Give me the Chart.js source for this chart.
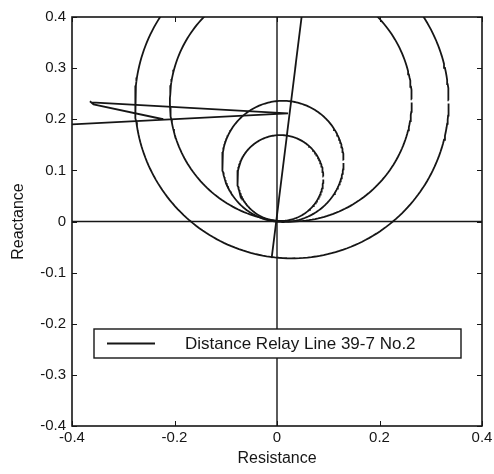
<!DOCTYPE html>
<html>
<head>
<meta charset="utf-8">
<title>Distance Relay Line 39-7 No.2</title>
<script src="https://cdn.jsdelivr.net/npm/chart.js@4.4.1/dist/chart.umd.min.js"></script>
<style>
  html, body { margin: 0; padding: 0; background: #fff; }
  #wrap { width: 494px; height: 474px; }
</style>
</head>
<body>
<div id="wrap"><canvas id="relayChart" width="494" height="474"></canvas></div>
<script>
// Axis ticks
const xTicks = [-0.4, -0.2, 0, 0.2, 0.4];
const xTickLabels = ['-0.4', '-0.2', '0', '0.2', '0.4'];
const yTicks = [-0.4, -0.3, -0.2, -0.1, 0, 0.1, 0.2, 0.3, 0.4];
const yTickLabels = ['-0.4', '-0.3', '-0.2', '-0.1', '0', '0.1', '0.2', '0.3', '0.4'];

// Mho zone circles: centre (R, X) and radius
const zoneCentreR = [0.029, 0.027, 0.0115, 0.0065];
const zoneCentreX = [0.234, 0.236, 0.1175, 0.085];
const zoneRadius = [0.306, 0.236, 0.1185, 0.084];

// Apparent impedance seen by the relay
const swingR = [-0.45, 0.0215, -0.362, -0.365, -0.358, -0.222];
const swingX = [0.1874, 0.2115, 0.233, 0.235, 0.229, 0.2];
const faultR = [0.0591, -0.0104];
const faultX = [0.49, -0.0717];

// R and X axis lines through the origin
const axisLineR = [-0.4, 0.4];
const axisLineX = [-0.4, 0.4];

const INK = '#161616';
const FONT = "'Liberation Sans', Arial, Helvetica, sans-serif";
Chart.defaults.font.family = FONT;
Chart.defaults.color = INK;

const toPoints = (rs, xs) => rs.map((r, i) => ({ x: r, y: xs[i] }));

// trace a circle from its centre and radius, leaving the small gap where the pen starts
function circlePoints(cx, cy, r) {
  const gap = 0.006 / r;
  const n = 240;
  const pts = [];
  for (let i = 0; i <= n; i++) {
    const a = gap / 2 + (2 * Math.PI - gap) * i / n;
    pts.push({ x: cx + r * Math.cos(a), y: cy + r * Math.sin(a) });
  }
  return pts;
}

const lineStyle = {
  showLine: true,
  pointRadius: 0,
  borderColor: INK,
  borderWidth: 1.8,
  tension: 0,
  clip: 0
};

const datasets = [
  { label: 'Distance Relay Line 39-7 No.2', data: toPoints(swingR, swingX), ...lineStyle },
  { label: 'fault', data: toPoints(faultR, faultX), ...lineStyle },
  { label: 'R axis', data: toPoints(axisLineR, [0, 0]), ...lineStyle, borderWidth: 1.4 },
  { label: 'X axis', data: toPoints([0, 0], axisLineX), ...lineStyle, borderWidth: 1.4 }
];
zoneRadius.forEach((r, i) => {
  datasets.push({ label: 'zone ' + (i + 1), data: circlePoints(zoneCentreR[i], zoneCentreX[i], r), ...lineStyle });
});

// box around the axes with inward tick marks on all four sides
const frameTicks = {
  id: 'frameTicks',
  afterDraw(chart) {
    const { ctx, chartArea: a, scales: { x, y } } = chart;
    const len = 5;
    ctx.save();
    ctx.strokeStyle = INK;
    ctx.lineWidth = 1.6;
    ctx.strokeRect(a.left, a.top, a.right - a.left, a.bottom - a.top);
    ctx.lineWidth = 1;
    ctx.beginPath();
    xTicks.forEach(v => {
      const px = Math.round(x.getPixelForValue(v)) + 0.5;
      ctx.moveTo(px, a.bottom); ctx.lineTo(px, a.bottom - len);
      ctx.moveTo(px, a.top); ctx.lineTo(px, a.top + len);
    });
    yTicks.forEach(v => {
      const py = Math.round(y.getPixelForValue(v)) + 0.5;
      ctx.moveTo(a.left, py); ctx.lineTo(a.left + len, py);
      ctx.moveTo(a.right, py); ctx.lineTo(a.right - len, py);
    });
    ctx.stroke();
    ctx.restore();
  }
};

// boxed legend inside the lower part of the axes
const boxLegend = {
  id: 'boxLegend',
  afterDraw(chart) {
    const { ctx, chartArea: a } = chart;
    const ds = chart.data.datasets[0];
    const left = a.left + 22, right = a.right - 21;
    const top = a.top + 312, h = 29;
    const mid = top + h / 2;
    ctx.save();
    ctx.fillStyle = '#fff';
    ctx.fillRect(left, top, right - left, h);
    ctx.strokeStyle = INK;
    ctx.lineWidth = 1.4;
    ctx.strokeRect(left, top, right - left, h);
    ctx.lineWidth = ds.borderWidth;
    ctx.strokeStyle = ds.borderColor;
    ctx.beginPath();
    ctx.moveTo(left + 13, mid); ctx.lineTo(left + 61, mid);
    ctx.stroke();
    ctx.fillStyle = INK;
    ctx.font = '17px ' + FONT;
    ctx.textBaseline = 'middle';
    ctx.fillText(ds.label, left + 91, mid + 1);
    ctx.restore();
  }
};

new Chart(document.getElementById('relayChart'), {
  type: 'scatter',
  data: { datasets },
  options: {
    responsive: false,
    animation: false,
    layout: { padding: { top: 17, right: 12, left: 0, bottom: 0 } },
    plugins: { legend: { display: false }, tooltip: { enabled: false } },
    scales: {
      x: {
        type: 'linear',
        min: -0.4,
        max: 0.4,
        afterBuildTicks: s => { s.ticks = xTicks.map(v => ({ value: v })); },
        afterFit: s => { s.height = 48; },
        ticks: {
          autoSkip: false,
          maxRotation: 0,
          padding: -5,
          font: { size: 15 },
          color: INK,
          callback: (v, i) => xTickLabels[i]
        },
        grid: { display: false },
        border: { display: false },
        title: { display: true, text: 'Resistance', font: { size: 16 }, color: INK, padding: { top: 0, bottom: 6 } }
      },
      y: {
        type: 'linear',
        min: -0.4,
        max: 0.4,
        afterBuildTicks: s => { s.ticks = yTicks.map(v => ({ value: v })); },
        afterFit: s => { s.width = 72; },
        ticks: {
          autoSkip: false,
          padding: -2,
          font: { size: 15 },
          color: INK,
          callback: (v, i) => yTickLabels[i]
        },
        grid: { display: false },
        border: { display: false },
        title: { display: true, text: 'Reactance', font: { size: 16 }, color: INK, padding: { top: 9, bottom: 0 } }
      }
    }
  },
  plugins: [frameTicks, boxLegend]
});
</script>
</body>
</html>
